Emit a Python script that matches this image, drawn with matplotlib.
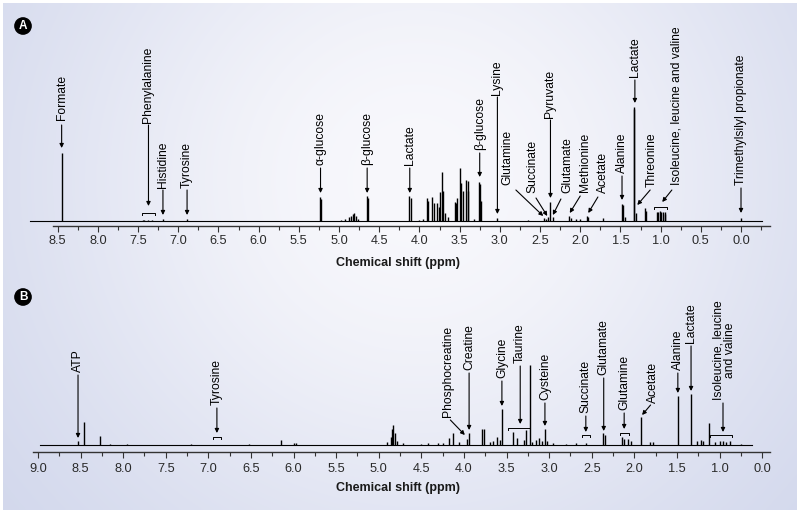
import numpy as np
import matplotlib.pyplot as plt

plt.rcParams["font.family"] = ["Liberation Sans", "DejaVu Sans"]

# ---------------------------------------------------------------------------
# Spectrum A: peak list (ppm, height in arbitrary units)
# ---------------------------------------------------------------------------
a_ppm = [8.45, 7.44, 7.42, 7.38, 7.33, 7.19, 6.89,
         5.235, 5.225,
         4.98, 4.92, 4.88, 4.85, 4.83, 4.81, 4.79, 4.77,
         4.655, 4.645, 4.125, 4.11, 4.0, 3.95,
         3.91, 3.89, 3.84, 3.82, 3.78, 3.76, 3.74, 3.72, 3.71, 3.68, 3.64,
         3.56, 3.54, 3.53, 3.50, 3.48, 3.46, 3.42, 3.40, 3.39, 3.32,
         3.26, 3.245, 3.23, 3.03, 2.65, 2.45, 2.43, 2.40, 2.37, 2.34,
         2.14, 2.11, 2.05, 2.00, 1.92, 1.90, 1.72,
         1.485, 1.47, 1.44, 1.335, 1.325, 1.31, 1.195, 1.18,
         1.04, 1.03, 1.01, 0.99, 0.97, 0.95, 0.94, 0.0]
a_height = [68, 1, 1, 1, 1, 2, 2,
            24, 22,
            1, 2, 4, 5, 7, 8, 5, 2,
            25, 23, 25, 23, 1, 2,
            23, 20, 24, 18, 18, 14, 29, 49, 30, 8, 4,
            19, 18, 23, 53, 38, 30, 41, 40, 30, 2,
            39, 37, 20, 3, 1, 3, 2, 4, 19, 4,
            5, 3, 2, 2, 5, 4, 3,
            17, 16, 4, 114, 112, 8, 13, 10,
            9, 9, 10, 9, 9, 9, 7, 3]
a_span = [8.84, -0.26]

# ---------------------------------------------------------------------------
# Spectrum B
# ---------------------------------------------------------------------------
b_ppm = [8.53, 8.46, 8.27, 8.15, 7.96, 7.2, 6.52, 6.15, 6.0, 5.97,
         4.90, 4.86, 4.845, 4.83, 4.815, 4.79, 4.72, 4.5, 4.42, 4.3, 4.25,
         4.18, 4.13, 4.06, 3.96, 3.94,
         3.79, 3.77, 3.70, 3.66, 3.61, 3.58, 3.555,
         3.43, 3.38, 3.30, 3.27, 3.23, 3.20, 3.15, 3.12, 3.08, 3.05, 3.02,
         2.95, 2.8, 2.68, 2.57, 2.37, 2.35, 2.15, 2.12, 2.07, 2.04,
         1.92, 1.82, 1.78, 1.49, 1.335, 1.27, 1.22, 1.19, 1.13,
         1.05, 1.0, 0.96, 0.92, 0.88, 0.75]
b_height = [4, 23, 9, 1, 1, 1, 1, 5, 2, 2,
            3, 8, 16, 20, 12, 4, 2, 1, 2, 2, 2,
            7, 12, 3, 6, 12,
            16, 16, 3, 4, 8, 5, 36,
            13, 7, 5, 15, 80, 3, 5, 7, 4, 16, 4,
            2, 1, 2, 2, 12, 10, 8, 6, 6, 4,
            28, 3, 3, 49, 51, 4, 5, 4, 22,
            3, 4, 4, 3, 4, 1]
b_span = [8.98, 0.62]

a_ticks = [8.5, 8.0, 7.5, 7.0, 6.5, 6.0, 5.5, 5.0, 4.5, 4.0,
           3.5, 3.0, 2.5, 2.0, 1.5, 1.0, 0.5, 0.0]
a_tick_labels = ["8.5", "8.0", "7.5", "7.0", "6.5", "6.0", "5.5", "5.0", "4.5",
                 "4.0", "3.5", "3.0", "2.5", "2.0", "1.5", "1.0", "0.5", "0.0"]
b_ticks = [9.0, 8.5, 8.0, 7.5, 7.0, 6.5, 6.0, 5.5, 5.0, 4.5,
           4.0, 3.5, 3.0, 2.5, 2.0, 1.5, 1.0, 0.5]
# the source figure labels its last tick "0.0" (no "0.5")
b_tick_labels = ["9.0", "8.5", "8.0", "7.5", "7.0", "6.5", "6.0", "5.5", "5.0",
                 "4.5", "4.0", "3.5", "3.0", "2.5", "2.0", "1.5", "1.0", "0.0"]

# annotation layout: label, text anchor (ppm, h), arrow start, arrow tip
a_notes = [
    ("Formate", (8.45, 101), (8.45, 96), (8.45, 73)),
    ("Phenylalanine", (7.37, 98), (7.37, 96), (7.37, 15)),
    ("Histidine", (7.19, 33), (7.19, 31), (7.19, 6)),
    ("Tyrosine", (6.89, 33), (6.89, 31), (6.89, 6)),
    ("α-glucose", (5.23, 56), (5.23, 53), (5.23, 28)),
    ("β-glucose", (4.65, 56), (4.65, 53), (4.65, 28)),
    ("Lactate", (4.12, 56), (4.12, 53), (4.12, 28)),
    ("β-glucose", (3.25, 71), (3.25, 68), (3.25, 44)),
    ("Lysine", (3.03, 126), (3.03, 124), (3.03, 7)),
    ("Glutamine", (2.90, 36), (2.80, 31), (2.46, 5)),
    ("Succinate", (2.59, 28), (2.55, 23), (2.41, 5)),
    ("Pyruvate", (2.37, 103), (2.37, 101), (2.37, 23)),
    ("Glutamate", (2.16, 28), (2.24, 22), (2.34, 6)),
    ("Methionine", (1.94, 29), (2.00, 25), (2.13, 8)),
    ("Acetate", (1.72, 28), (1.78, 24), (1.90, 8)),
    ("Alanine", (1.48, 48), (1.48, 45), (1.48, 21)),
    ("Lactate", (1.32, 144), (1.32, 141), (1.32, 118)),
    ("Threonine", (1.11, 34), (1.13, 31), (1.29, 16)),
    ("Isoleucine, leucine and valine", (0.80, 36), (0.86, 31), (0.98, 19)),
    ("Trimethylsilyl propionate", (0.0, 36), (0.0, 33), (0.0, 8)),
]
a_brackets = [(7.45, 7.29, 8), (1.08, 0.92, 14)]

b_notes = [
    ("ATP", (8.53, 73), (8.53, 70), (8.53, 7)),
    ("Tyrosine", (6.90, 40), (6.90, 37), (6.90, 12)),
    ("Phosphocreatine", (4.19, 28), (4.16, 25), (3.99, 10)),
    ("Creatine", (3.94, 75), (3.94, 72), (3.94, 15)),
    ("Glycine", (3.555, 67), (3.555, 64), (3.555, 39)),
    ("Taurine", (3.34, 82), (3.34, 79), (3.34, 21)),
    ("Cysteine", (3.05, 45), (3.05, 42), (3.05, 19)),
    ("Succinate", (2.57, 32), (2.57, 29), (2.57, 13)),
    ("Glutamate", (2.36, 70), (2.36, 67), (2.36, 14)),
    ("Glutamine", (2.12, 35), (2.12, 32), (2.12, 16)),
    ("Acetate", (1.78, 42), (1.81, 40), (1.91, 30)),
    ("Alanine", (1.49, 75), (1.49, 72), (1.49, 52)),
    ("Lactate", (1.335, 102), (1.335, 99), (1.335, 54)),
    ("Isoleucine, leucine\nand valine", (0.95, 45), (0.96, 42), (0.96, 13)),
]
b_brackets = [(6.95, 6.85, 8), (3.48, 3.23, 17), (2.62, 2.52, 10),
              (2.17, 2.06, 12), (1.11, 0.86, 10)]


def draw_panel(ax, ppm, height, span, ticks, labels, notes, brackets,
               xlim, ylim, bounds, pad):
    ax.set_facecolor("none")
    ax.plot(span, [0, 0], color="black", lw=0.8)
    ax.vlines(ppm, 0, height, color="black", lw=1.0)
    ax.set_xlim(*xlim)
    ax.set_ylim(*ylim)

    for side in ("left", "right", "top"):
        ax.spines[side].set_visible(False)
    ax.spines["bottom"].set_bounds(*bounds)
    ax.spines["bottom"].set_color("#333333")
    ax.spines["bottom"].set_linewidth(1.0)
    ax.set_yticks([])
    ax.set_xticks(ticks)
    ax.set_xticklabels(labels)
    minor = [t - 0.25 for t in ticks if t - 0.25 > bounds[1]]
    ax.set_xticks(minor, minor=True)
    ax.tick_params(axis="x", which="major", length=4.5, width=0.8,
                   color="#333333", labelsize=9.2, labelcolor="#2a2a2a", pad=pad)
    ax.tick_params(axis="x", which="minor", length=2.8, width=0.8,
                   color="#333333")

    for text, (tx, ty), start, tip in notes:
        ax.text(tx, ty, text, rotation=90, ha="center", va="bottom",
                fontsize=8.7, color="black", multialignment="center",
                linespacing=0.95)
        ax.annotate("", xy=tip, xytext=start,
                    arrowprops=dict(arrowstyle="-|>", lw=0.8, color="black",
                                    mutation_scale=6, shrinkA=0, shrinkB=0))

    for x0, x1, h in brackets:
        ax.plot([x0, x0, x1, x1], [h - 2, h, h, h - 2], color="black", lw=0.7)


fig = plt.figure(figsize=(8, 5.15), dpi=100)
fig.patch.set_facecolor("white")

# soft blue-grey background panel
bg = fig.add_axes([0.004, 0.010, 0.992, 0.984])
u = np.linspace(0, 1, 400)[None, :]
v = np.linspace(0, 1, 260)[:, None]
w = np.exp(-((u - 0.52) / 0.55) ** 2 - ((v - 0.35) / 0.85) ** 2)
edge = np.array([200, 207, 232]) / 255
centre = np.array([248, 248, 252]) / 255
img = edge + (centre - edge) * w[..., None]
bg.imshow(img, aspect="auto", extent=[0, 1, 0, 1], interpolation="bicubic")
bg.set_axis_off()
bg.set_zorder(-10)

ax_a = fig.add_axes([20 / 800, (515 - 226) / 515, 760 / 800, 211 / 515])
draw_panel(ax_a, a_ppm, a_height, a_span, a_ticks, a_tick_labels, a_notes,
           a_brackets, (8.968, -0.485), (-5, 206), (8.56, -0.36), 2.0)

ax_b = fig.add_axes([20 / 800, (515 - 452) / 515, 760 / 800, 162 / 515])
draw_panel(ax_b, b_ppm, b_height, b_span, b_ticks, b_tick_labels, b_notes,
           b_brackets, (9.211, 0.291), (-7, 155), (9.06, 0.41), 3.5)

for y_px in (263, 488):
    fig.text(398 / 800, 1 - y_px / 515, "Chemical shift (ppm)", ha="center",
             va="center", fontsize=9, fontweight="bold", color="#1a1a1a")

for letter, y_px in (("A", 26), ("B", 297)):
    fig.text(23 / 800, 1 - y_px / 515, letter, ha="center", va="center",
             fontsize=8.5, fontweight="bold", color="white",
             bbox=dict(boxstyle="circle,pad=0.18", fc="black", ec="black"))

fig.savefig("out.png", dpi=100)
